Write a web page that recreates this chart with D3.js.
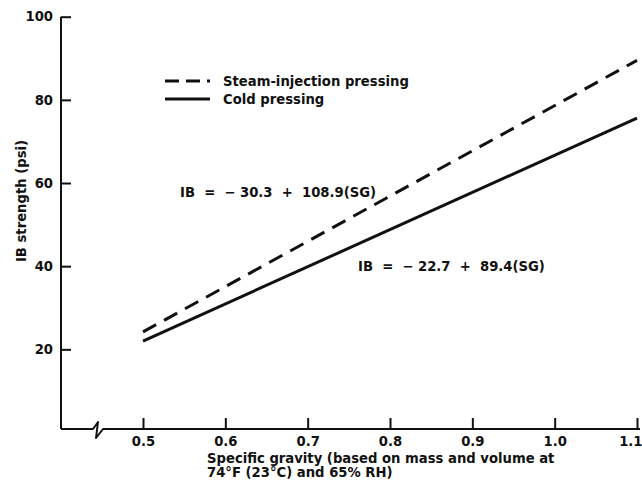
<!DOCTYPE html>
<html>
<head>
<meta charset="utf-8">
<script src="https://cdn.jsdelivr.net/npm/d3@7"></script>
<style>
  body { margin: 0; background: #fff; }
  text { font-family: "DejaVu Sans", "Liberation Sans", sans-serif; font-weight: bold; fill: #111; white-space: pre; }
</style>
</head>
<body>
<svg id="chart" width="642" height="489"></svg>
<script>
"use strict";

// values
var sg = [0.5, 1.1];
var steam = [24.2, 89.5];
var cold = [22.0, 75.6];
var xTicks = [0.5, 0.6, 0.7, 0.8, 0.9, 1.0, 1.1];
var yTicks = [20, 40, 60, 80, 100];
var seriesNames = ["Steam-injection pressing", "Cold pressing"];
var equations = ["IB  =  \u2212 30.3  +  108.9(SG)", "IB  =  \u2212 22.7  +  89.4(SG)"];

var svg = d3.select("#chart");

var x = d3.scaleLinear().domain([0.5, 1.1]).range([143, 637]);
var y = d3.scaleLinear().domain([0, 100]).range([432.5, 16.7]);

var axisY = 429, axisX = 61;
var fs = 13.2;

// left axis with inward ticks
var yAxis = d3.axisLeft(y).tickValues(yTicks).tickSize(-10).tickPadding(19).tickFormat(d3.format("d"));
var gy = svg.append("g").attr("transform", "translate(" + axisX + ",0)").call(yAxis);
gy.select(".domain").remove();
gy.selectAll(".tick line").attr("stroke", "#111").attr("stroke-width", 2);
gy.selectAll(".tick text").attr("font-size", fs).attr("dx", 11);
svg.append("line").attr("x1", axisX).attr("x2", axisX)
  .attr("y1", y(100)).attr("y2", axisY)
  .attr("stroke", "#111").attr("stroke-width", 2);

// bottom axis with a break mark
var xAxis = d3.axisBottom(x).tickValues(xTicks).tickSize(-11).tickPadding(8).tickFormat(d3.format(".1f"));
var gx = svg.append("g").attr("transform", "translate(0," + axisY + ")").call(xAxis);
gx.select(".domain").remove();
gx.selectAll(".tick line").attr("stroke", "#111").attr("stroke-width", 2);
gx.selectAll(".tick text").attr("font-size", fs)
  .filter(function (d) { return d === 1.1; }).attr("text-anchor", "end").attr("dx", 5);

var axisPath = d3.path();
axisPath.moveTo(axisX, axisY);
axisPath.lineTo(93, axisY);
axisPath.lineTo(98, axisY - 7);
axisPath.lineTo(96, axisY + 9);
axisPath.lineTo(103, axisY);
axisPath.lineTo(x(1.1) + 3, axisY);
svg.append("path").attr("d", axisPath.toString())
  .attr("fill", "none").attr("stroke", "#111").attr("stroke-width", 2).attr("stroke-linejoin", "round");

// regression lines
var line = d3.line().x(function (d) { return x(d[0]); }).y(function (d) { return y(d[1]); });
svg.append("path").datum(d3.zip(sg, steam)).attr("d", line)
  .attr("fill", "none").attr("stroke", "#111").attr("stroke-width", 3)
  .attr("stroke-dasharray", "15,9");
svg.append("path").datum(d3.zip(sg, cold)).attr("d", line)
  .attr("fill", "none").attr("stroke", "#111").attr("stroke-width", 3);

// legend
var legend = svg.append("g");
legend.append("line").attr("x1", 165).attr("x2", 210).attr("y1", 81).attr("y2", 81)
  .attr("stroke", "#111").attr("stroke-width", 3).attr("stroke-dasharray", "14,7");
legend.append("line").attr("x1", 165).attr("x2", 210).attr("y1", 99).attr("y2", 99)
  .attr("stroke", "#111").attr("stroke-width", 3);
legend.selectAll("text.leg").data(seriesNames).enter().append("text")
  .attr("class", "leg")
  .attr("x", 223).attr("y", function (d, i) { return 86 + i * 18; })
  .attr("font-size", fs)
  .text(function (d) { return d; });

// equations
svg.append("text").attr("x", 180).attr("y", 197).attr("font-size", fs).text(equations[0]);
svg.append("text").attr("x", 358).attr("y", 271).attr("font-size", fs).text(equations[1]);

// axis titles
svg.append("text").attr("transform", "translate(26,201) rotate(-90)")
  .attr("text-anchor", "middle").attr("font-size", fs).text("IB strength (psi)");
var xt = svg.append("text").attr("x", 207).attr("y", 463).attr("font-size", fs);
xt.append("tspan").attr("x", 207).text("Specific gravity (based on mass and volume at");
xt.append("tspan").attr("x", 207).attr("dy", 14).text("74\u00b0F (23\u00b0C) and 65% RH)");
</script>
</body>
</html>
